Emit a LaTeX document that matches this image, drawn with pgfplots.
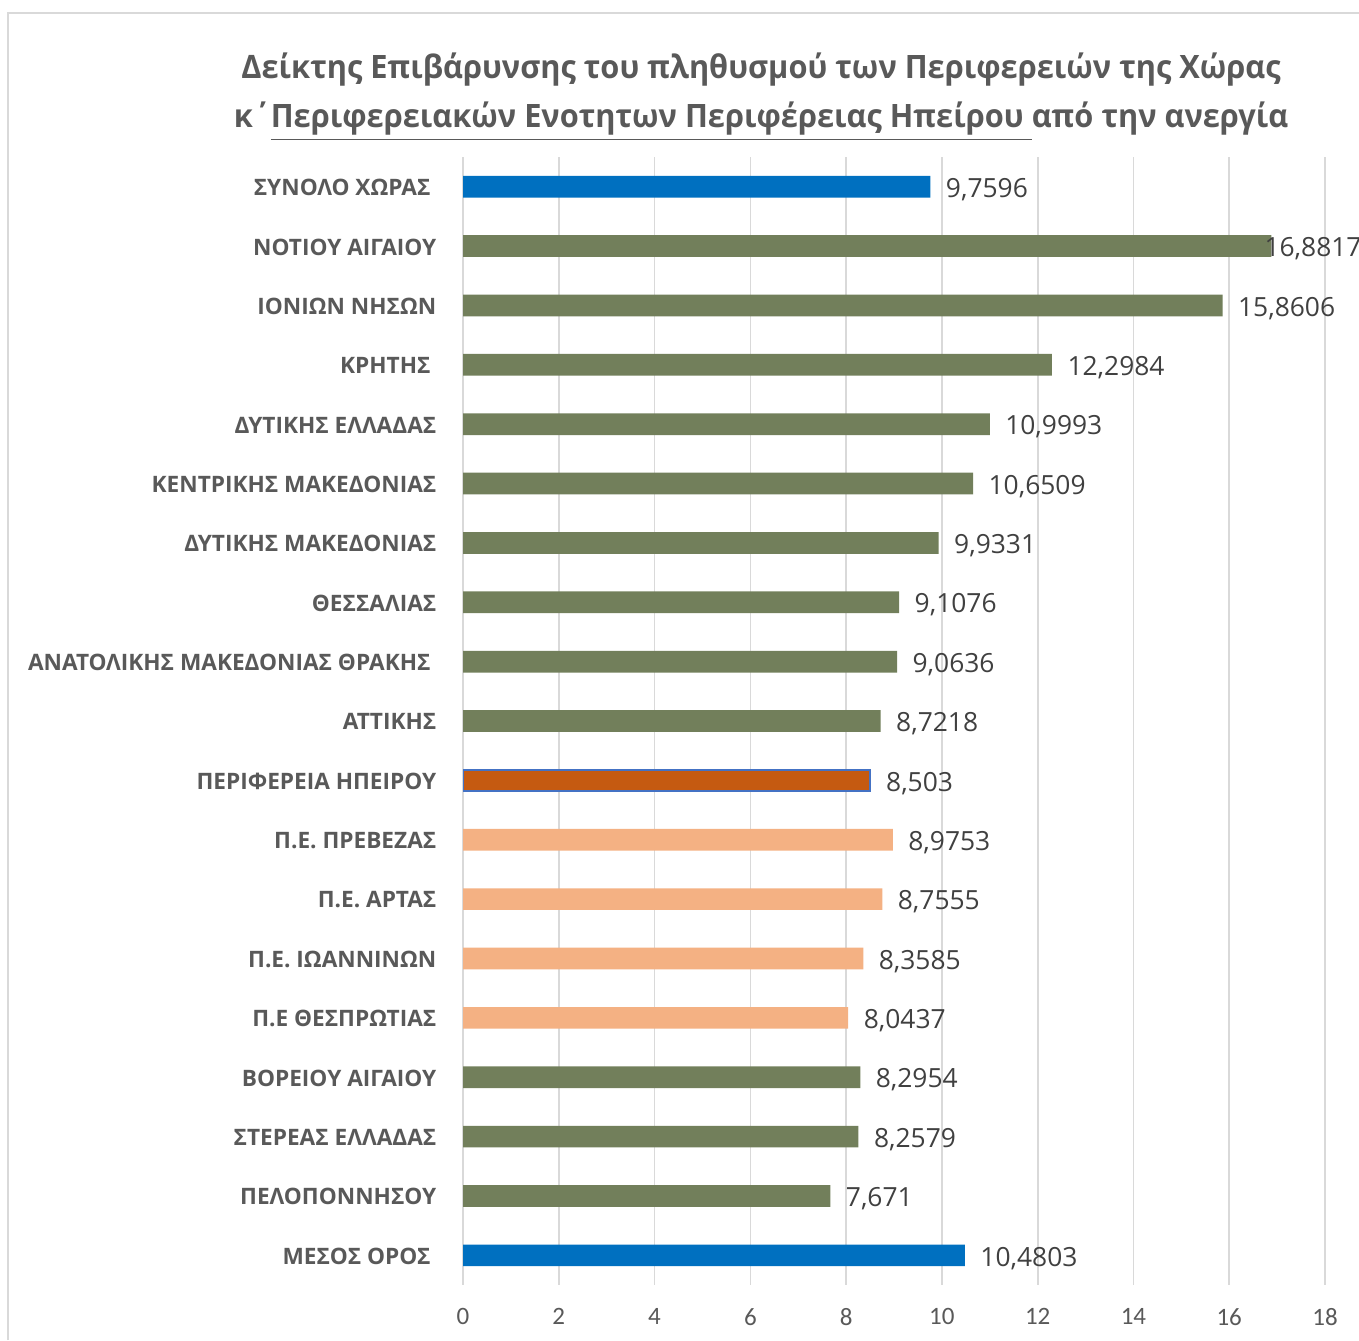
\documentclass[border=0pt]{standalone}
\usepackage{fontspec}
\setmainfont{Open Sans}
\newfontfamily\carlito{Carlito}
\newfontfamily\titlefont[FakeStretch=0.955]{Open Sans}
\usepackage{pgfplots}
\usepackage{pgfplotstable}
\pgfplotsset{compat=1.18}
\definecolor{cblue}{HTML}{0070C0}
\definecolor{cgreen}{HTML}{727F5B}
\definecolor{cdorange}{HTML}{C55A11}
\definecolor{clorange}{HTML}{F4B183}
\definecolor{coutline}{HTML}{4472C4}
\definecolor{cgrid}{HTML}{D9D9D9}
\definecolor{ctext}{HTML}{595959}
\definecolor{clab}{HTML}{404040}

\pgfplotstableread{
y val lab off
0 9.7596 9,7596 5.4
18 10.4803 10,4803 5.4
}\tblue
\pgfplotstableread{
y val lab off
1 16.8817 16,8817 -2.7
2 15.8606 15,8606 5.4
3 12.2984 12,2984 5.4
4 10.9993 10,9993 5.4
5 10.6509 10,6509 5.4
6 9.9331 9,9331 5.4
7 9.1076 9,1076 5.4
8 9.0636 9,0636 5.4
9 8.7218 8,7218 5.4
15 8.2954 8,2954 5.4
16 8.2579 8,2579 5.4
17 7.671 7,671 5.4
}\tgreen
\pgfplotstableread{
y val lab off
10 8.503 8,503 5.4
}\tdorange
\pgfplotstableread{
y val lab off
11 8.9753 8,9753 5.4
12 8.7555 8,7555 5.4
13 8.3585 8,3585 5.4
14 8.0437 8,0437 5.4
}\tlorange

\begin{document}
\begin{tikzpicture}
\useasboundingbox (0,0) rectangle (489.24pt,-482.4pt);
\draw[cgrid, line width=0.6pt] (2.9pt,-482.4pt) -- (2.9pt,-4.7pt) -- (489.24pt,-4.7pt);
\node[text=ctext, font=\titlefont\fontsize{11.6}{16.2}\selectfont\bfseries, align=center, anchor=center] at (274pt,-35pt)
  {Δείκτης Επιβάρυνσης του πληθυσμού των Περιφερειών της Χώρας\\[1.4pt]
   κ΄\underline{Περιφερειακών Ενοτητων Περιφέρειας Ηπείρου\ }από την ανεργία};
\begin{axis}[
  at={(166.68pt,-462.6pt)}, anchor=south west,
  scale only axis, width=310.32pt, height=406.08pt,
  xmin=0, xmax=18, ymin=-0.5, ymax=18.5, y dir=reverse,
  xtick={0,2,...,18},
  ytick={0,...,18},
  yticklabels={ΣΥΝΟΛΟ ΧΩΡΑΣ\kern2.1pt, ΝΟΤΙΟΥ ΑΙΓΑΙΟΥ, ΙΟΝΙΩΝ ΝΗΣΩΝ, ΚΡΗΤΗΣ\kern2.1pt, ΔΥΤΙΚΗΣ ΕΛΛΑΔΑΣ, ΚΕΝΤΡΙΚΗΣ ΜΑΚΕΔΟΝΙΑΣ, ΔΥΤΙΚΗΣ ΜΑΚΕΔΟΝΙΑΣ, ΘΕΣΣΑΛΙΑΣ, ΑΝΑΤΟΛΙΚΗΣ ΜΑΚΕΔΟΝΙΑΣ ΘΡΑΚΗΣ\kern2.1pt, ΑΤΤΙΚΗΣ, ΠΕΡΙΦΕΡΕΙΑ ΗΠΕΙΡΟΥ, Π.Ε. ΠΡΕΒΕΖΑΣ, Π.Ε. ΑΡΤΑΣ, Π.Ε. ΙΩΑΝΝΙΝΩΝ, Π.Ε ΘΕΣΠΡΩΤΙΑΣ, ΒΟΡΕΙΟΥ ΑΙΓΑΙΟΥ, ΣΤΕΡΕΑΣ ΕΛΛΑΔΑΣ, ΠΕΛΟΠΟΝΝΗΣΟΥ, ΜΕΣΟΣ ΟΡΟΣ\kern2.1pt},
  major tick length=0pt,
  axis line style={draw=none},
  xmajorgrids, grid style={cgrid, line width=0.6pt},
  yticklabel style={font=\fontsize{8.15}{10}\selectfont\bfseries, text=ctext, anchor=east, inner sep=0pt, xshift=-9.4pt, yshift=-0.3pt},
  xticklabel style={font=\carlito\fontsize{9}{10}\selectfont, text=ctext, inner sep=0pt, yshift=-8.3pt, anchor=north},
  /pgf/number format/assume math mode=true,
  xbar, bar width=7.8pt, bar shift=0pt,
  point meta=explicit symbolic,
  visualization depends on={\thisrow{off} \as \myoff},
  nodes near coords,
  nodes near coords align={horizontal},
  every node near coord/.style={anchor=west, inner sep=0pt, xshift=\myoff pt, yshift=-1pt, text=clab, font=\fontsize{9.5}{11}\selectfont},
]
\addplot[fill=cblue, draw=none] table[x=val, y=y, meta=lab] {\tblue};
\addplot[fill=cgreen, draw=none] table[x=val, y=y, meta=lab] {\tgreen};
\addplot[fill=cdorange, draw=coutline, line width=0.7pt] table[x=val, y=y, meta=lab] {\tdorange};
\addplot[fill=clorange, draw=none] table[x=val, y=y, meta=lab] {\tlorange};
\end{axis}
\end{tikzpicture}
\end{document}
